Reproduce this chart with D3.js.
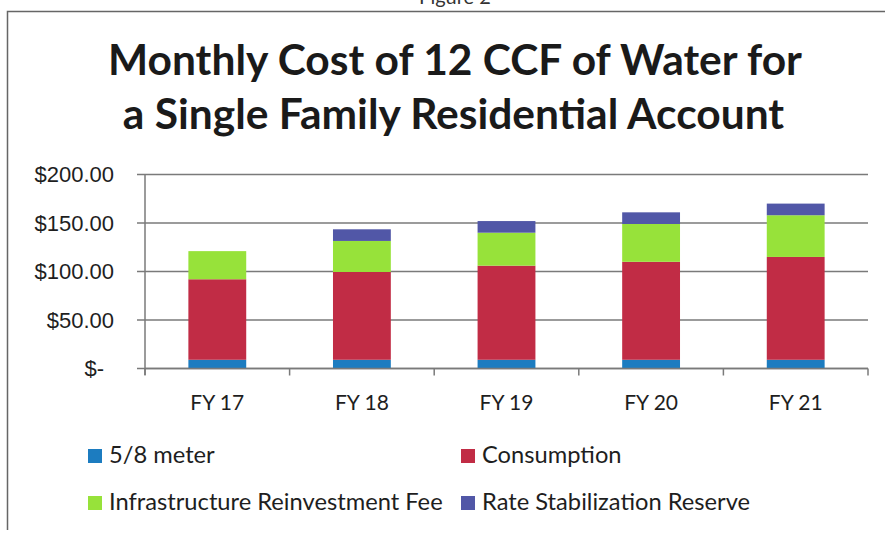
<!DOCTYPE html>
<html>
<head>
<meta charset="utf-8">
<script src="https://cdn.jsdelivr.net/npm/d3@7"></script>
<style>
  body { margin: 0; background: #fff; }
  svg { display: block; font-family: Lato, "Open Sans", sans-serif; }
</style>
</head>
<body>
<script>

// values ($ per month)
var years = ["FY 17", "FY 18", "FY 19", "FY 20", "FY 21"];
var meter = [9, 9, 9, 9, 9];
var consumption = [83, 90.5, 97, 101, 106];
var infrastructure = [29, 32, 34, 39, 43];
var rateStabilization = [0, 12, 12, 12, 12];
var yTicks = [0, 50, 100, 150, 200];

var seriesNames = ["5/8 meter", "Consumption", "Infrastructure Reinvestment Fee", "Rate Stabilization Reserve"];
var seriesColors = ["#1c7cc0", "#c12c45", "#97e23a", "#5157a7"];
var seriesValues = [meter, consumption, infrastructure, rateStabilization];

var width = 885;
var height = 534;

var table = years.map(function(y, i) {
    var row = {year: y};
    seriesNames.forEach(function(s, j) { row[s] = seriesValues[j][i]; });
    return row;
});

var stacked = d3.stack().keys(seriesNames)(table);

var svg = d3.select("body").append("svg")
    .attr("width", width)
    .attr("height", height);

// page frame
svg.append("path")
    .attr("d", "M7.5,530 V11.5 H885")
    .attr("fill", "none")
    .attr("stroke", "#666")
    .attr("stroke-width", 1.5);

svg.append("text")
    .attr("x", 455)
    .attr("y", 4)
    .attr("text-anchor", "middle")
    .style("font-size", "20px")
    .attr("fill", "#333")
    .text("Figure 2");

// title
var title = svg.append("text")
    .attr("text-anchor", "middle")
    .style("font-weight", "bold")
    .style("font-size", "42.5px")
    .attr("fill", "#1a1a1a");
title.append("tspan").attr("x", 455).attr("y", 75).text("Monthly Cost of 12 CCF of Water for");
title.append("tspan").attr("x", 453.5).attr("y", 129).text("a Single Family Residential Account");

var x = d3.scaleBand()
    .domain(years)
    .range([145, 868])
    .paddingInner(0.6)
    .paddingOuter(0.3);

var y = d3.scaleLinear()
    .domain([0, 200])
    .range([368.5, 174.5]);

// gridlines
svg.append("g")
    .selectAll("line")
    .data(yTicks)
    .enter()
    .append("line")
    .attr("x1", 137)
    .attr("x2", 868)
    .attr("y1", function(d) { return y(d); })
    .attr("y2", function(d) { return y(d); })
    .attr("stroke", "#7a7a7a")
    .attr("stroke-width", 1.5);

// bars
svg.append("g")
    .selectAll("g")
    .data(stacked)
    .enter()
    .append("g")
    .attr("fill", function(d, i) { return seriesColors[i]; })
    .selectAll("rect")
    .data(function(d) { return d; })
    .enter()
    .append("rect")
    .attr("x", function(d) { return x(d.data.year); })
    .attr("width", x.bandwidth())
    .attr("y", function(d) { return y(d[1]); })
    .attr("height", function(d) { return y(d[0]) - y(d[1]); });

// y axis
var yAxis = svg.append("g")
    .attr("transform", "translate(145,0)")
    .call(d3.axisLeft(y)
        .tickValues(yTicks)
        .tickSize(0)
        .tickPadding(31)
        .tickFormat(function(d) { return d === 0 ? "$-" : "$" + d3.format(".2f")(d); }));
yAxis.select(".domain").attr("stroke", "#7a7a7a").attr("stroke-width", 1.5).attr("d", "M0,174.5V375");
yAxis.selectAll("text")
    .style("font-size", "22px")
    .attr("fill", "#1e1e1e")
    .attr("dx", function(d) { return d === 0 ? -10 : 0; });

// x axis
var xTicks = years.map(function(d) { return x(d) - x.step() * x.paddingInner() / 2; });
xTicks.push(868);
var xAxis = svg.append("g")
    .attr("transform", "translate(0,368.5)");
xAxis.append("line")
    .attr("x1", 145)
    .attr("x2", 868)
    .attr("stroke", "#7a7a7a")
    .attr("stroke-width", 1.5);
xAxis.selectAll(".tick")
    .data(xTicks)
    .enter()
    .append("line")
    .attr("x1", function(d) { return d; })
    .attr("x2", function(d) { return d; })
    .attr("y2", 7)
    .attr("stroke", "#7a7a7a")
    .attr("stroke-width", 1.5);
xAxis.selectAll("text")
    .data(years)
    .enter()
    .append("text")
    .attr("x", function(d) { return x(d) + x.bandwidth() / 2; })
    .attr("y", 41)
    .attr("text-anchor", "middle")
    .style("font-size", "21px")
    .attr("fill", "#1e1e1e")
    .text(function(d) { return d; });

// legend
var legendX = [88, 461];
var legendY = [463, 510];
var legend = svg.append("g")
    .selectAll("g")
    .data(seriesNames)
    .enter()
    .append("g")
    .attr("transform", function(d, i) {
        return "translate(" + legendX[i % 2] + "," + legendY[Math.floor(i / 2)] + ")";
    });
legend.append("rect")
    .attr("y", -14)
    .attr("width", 14)
    .attr("height", 14)
    .attr("fill", function(d, i) { return seriesColors[i]; });
legend.append("text")
    .attr("x", 21)
    .style("font-size", "23.7px")
    .attr("fill", "#1e1e1e")
    .text(function(d) { return d; });

</script>
</body>
</html>
